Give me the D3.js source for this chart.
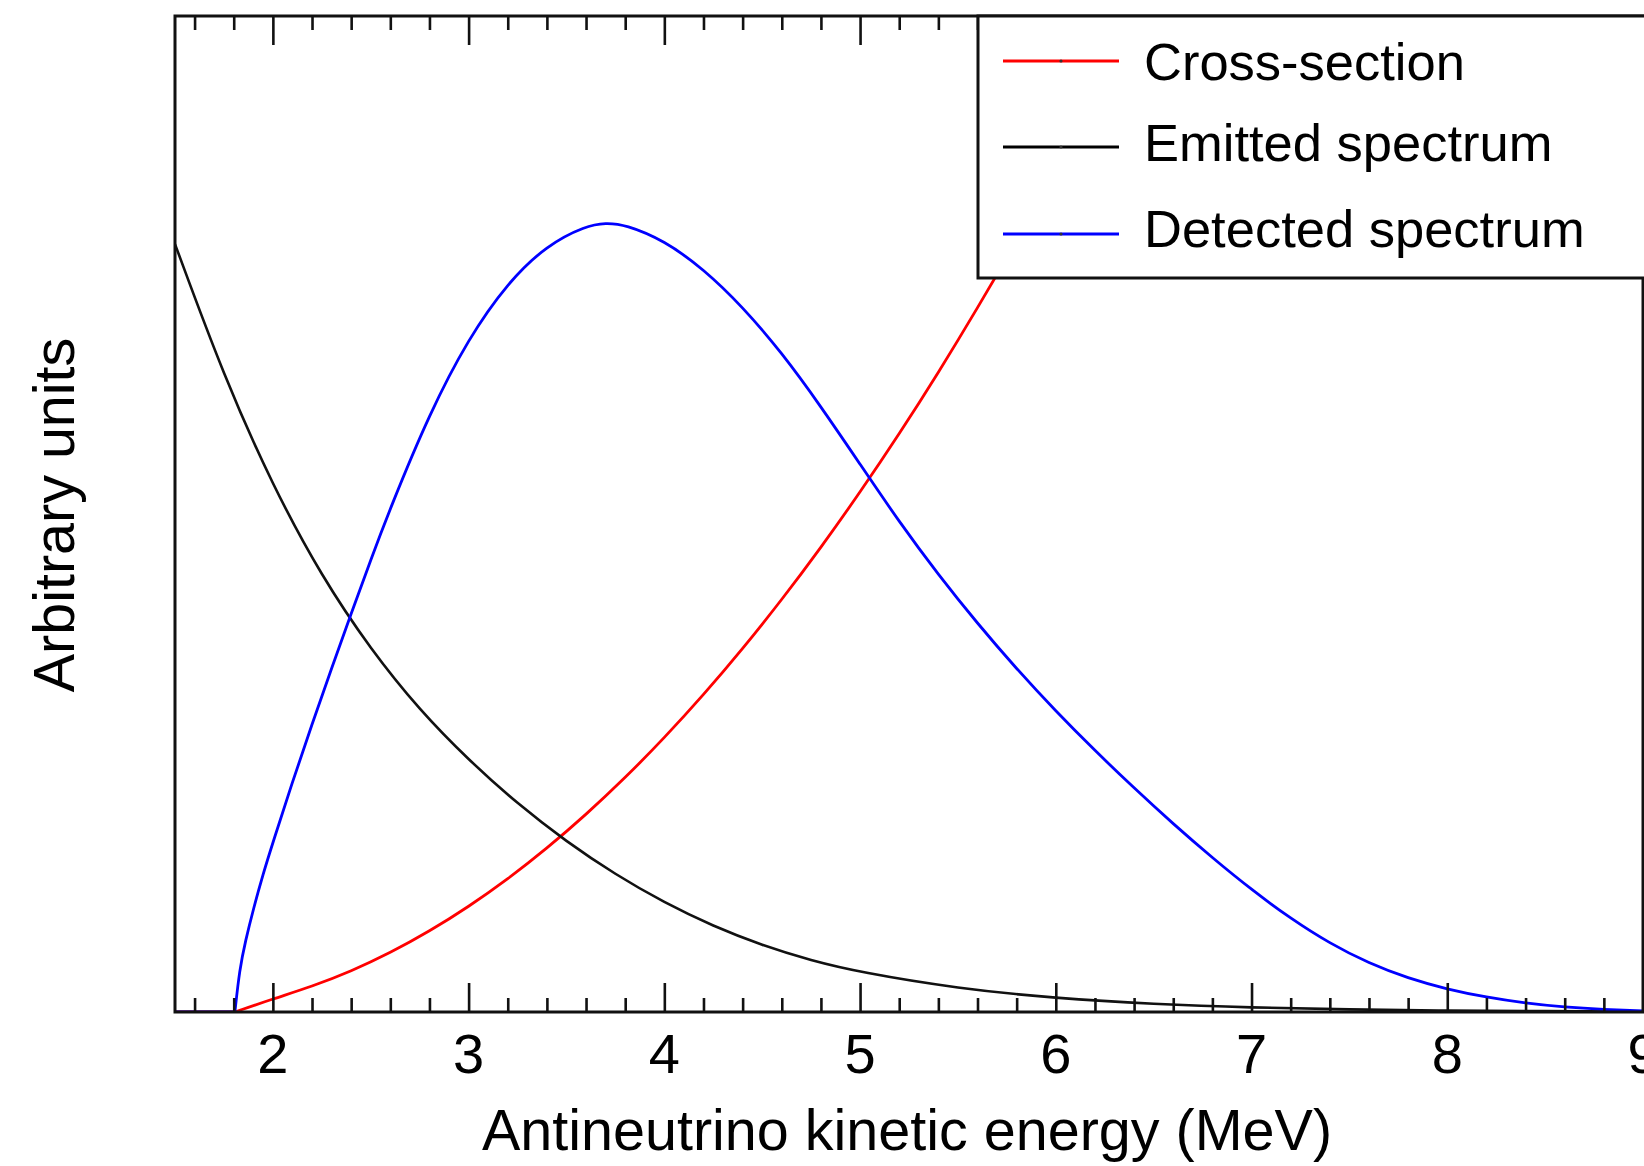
<!DOCTYPE html>
<html>
<head>
<meta charset="utf-8">
<script src="https://cdn.jsdelivr.net/npm/d3@7"></script>
<style>
  html, body { margin: 0; padding: 0; background: #fff; overflow: hidden; }
  svg { display: block; font-family: "Liberation Sans", Arial, Helvetica, sans-serif; }
</style>
</head>
<body>
<svg id="chart" width="1644" height="1166"></svg>
<script>
// ---- data ----
const xTickValues = [2, 3, 4, 5, 6, 7, 8, 9];
const threshold = 1.806;

const crossE = [1.5, 1.806, 2.0, 2.2, 2.4, 2.6, 2.8, 3.0, 3.2, 3.4, 3.6, 3.8, 4.0, 4.2, 4.4, 4.6, 4.8, 5.0, 5.2, 5.4, 5.6, 5.8, 6.0, 6.2, 6.4, 6.6];
const crossV = [0, 0, 0.0132, 0.0256, 0.0409, 0.0594, 0.081, 0.1057, 0.1334, 0.1642, 0.1982, 0.2351, 0.2752, 0.3184, 0.3646, 0.4139, 0.4663, 0.5218, 0.5803, 0.6419, 0.7067, 0.7744, 0.8453, 0.9193, 0.9963, 1.0764];

const emitE = [1.5, 1.75, 2.0, 2.25, 2.5, 2.75, 3.0, 3.25, 3.5, 3.75, 4.0, 4.25, 4.5, 4.75, 5.0, 5.5, 6.0, 6.5, 7.0, 7.5, 8.0, 8.5, 9.0];
const emitV = [0.771, 0.638, 0.528, 0.437, 0.364, 0.303, 0.253, 0.209, 0.171, 0.138, 0.1097, 0.0861, 0.0669, 0.0517, 0.0399, 0.0236, 0.0138, 0.0079, 0.0044, 0.0025, 0.0014, 0.0008, 0.0004];

const detE = [1.5, 1.806, 1.83, 1.86, 1.9, 1.95, 2.0, 2.1, 2.2, 2.3, 2.4, 2.5, 2.6, 2.8, 3.0, 3.2, 3.4, 3.6, 3.7, 3.8, 4.0, 4.2, 4.4, 4.6, 4.8, 5.0, 5.2, 5.4, 5.6, 5.8, 6.0, 6.2, 6.4, 6.6, 6.8, 7.0, 7.2, 7.4, 7.6, 7.8, 8.0, 8.2, 8.4, 8.6, 8.8, 9.0];
const detV = [0, 0, 0.043, 0.0714, 0.103, 0.1386, 0.170, 0.231, 0.289, 0.345, 0.400, 0.454, 0.506, 0.601, 0.6766, 0.7324, 0.770, 0.7894, 0.7923, 0.7906, 0.7746, 0.746, 0.708, 0.662, 0.608, 0.550, 0.492, 0.439, 0.390, 0.3444, 0.302, 0.2624, 0.2248, 0.1888, 0.1548, 0.1228, 0.0938, 0.0688, 0.0488, 0.0338, 0.0228, 0.0148, 0.0088, 0.0048, 0.0024, 0.001];

const seriesNames = ["Cross-section", "Emitted spectrum", "Detected spectrum"];
const seriesColors = ["#ff0000", "#000000", "#0000ff"];

// ---- layout ----
const svg = d3.select("#chart");
const plotL = 175, plotR = 1643, plotT = 16, plotB = 1012;

const x = d3.scaleLinear().domain([1.5, 9]).range([plotL, plotR]);
const y = d3.scaleLinear().domain([0, 1]).range([plotB, plotT]);

svg.append("defs").append("clipPath").attr("id", "plotclip")
  .append("rect").attr("x", plotL).attr("y", plotT).attr("width", plotR - plotL).attr("height", plotB - plotT);

const zip = (E, V) => E.map((e, i) => ({ e, v: V[i] }));
const crossData = zip(crossE, crossV);
const emitData = zip(emitE, emitV);
const detData = zip(detE, detV);

const lineSmooth = d3.line().x(d => x(d.e)).y(d => y(d.v)).curve(d3.curveBasis);
const lineLin = d3.line().x(d => x(d.e)).y(d => y(d.v));

const plot = svg.append("g").attr("clip-path", "url(#plotclip)");
const curveWidth = 2.8;

function drawThresholdSeries(data, color) {
  const flat = data.filter(d => d.e <= threshold);
  const rise = data.filter(d => d.e >= threshold);
  plot.append("path").datum(flat).attr("d", lineLin)
    .attr("fill", "none").attr("stroke", color).attr("stroke-width", curveWidth);
  plot.append("path").datum(rise).attr("d", lineSmooth)
    .attr("fill", "none").attr("stroke", color).attr("stroke-width", curveWidth);
}

drawThresholdSeries(crossData, seriesColors[0]);
plot.append("path").datum(emitData).attr("d", lineSmooth)
  .attr("fill", "none").attr("stroke", "#111").attr("stroke-width", curveWidth - 0.2);
drawThresholdSeries(detData, seriesColors[2]);

// ---- axes (ROOT style: ticks inside) ----
const majorLen = 29, minorLen = 14;
const minorTicks = d3.range(16, 91, 2).map(v => v / 10).filter(v => !xTickValues.includes(v));

const bottomAxis = d3.axisTop(x).tickValues(xTickValues).tickSize(majorLen).tickFormat("");
const bottomMinor = d3.axisTop(x).tickValues(minorTicks).tickSize(minorLen).tickFormat("");
const topAxis = d3.axisBottom(x).tickValues(xTickValues).tickSize(majorLen).tickFormat("");
const topMinor = d3.axisBottom(x).tickValues(minorTicks).tickSize(minorLen).tickFormat("");

function styleAxis(g) {
  g.select(".domain").remove();
  g.selectAll(".tick line").attr("stroke", "#111").attr("stroke-width", 2.6);
}
svg.append("g").attr("transform", `translate(0,${plotB})`).call(bottomAxis).call(styleAxis);
svg.append("g").attr("transform", `translate(0,${plotB})`).call(bottomMinor).call(styleAxis);
svg.append("g").attr("transform", `translate(0,${plotT})`).call(topAxis).call(styleAxis);
svg.append("g").attr("transform", `translate(0,${plotT})`).call(topMinor).call(styleAxis);

// tick labels
svg.append("g").selectAll("text").data(xTickValues).join("text")
  .attr("x", d => x(d)).attr("y", 1073)
  .attr("text-anchor", "middle").attr("font-size", 56).attr("fill", "#000")
  .text(d => d);

// frame
svg.append("rect").attr("x", plotL).attr("y", plotT)
  .attr("width", plotR - plotL).attr("height", plotB - plotT)
  .attr("fill", "none").attr("stroke", "#111").attr("stroke-width", 3);

// axis titles
svg.append("text").attr("x", 907).attr("y", 1150).attr("text-anchor", "middle")
  .attr("font-size", 57.5).attr("fill", "#000").text("Antineutrino kinetic energy (MeV)");
svg.append("text").attr("transform", "translate(74,515) rotate(-90)").attr("text-anchor", "middle")
  .attr("font-size", 57.5).attr("fill", "#000").text("Arbitrary units");

// ---- legend ----
const legX = 978, legY = 16, legH = 262;
const legend = svg.append("g");
legend.append("rect").attr("x", legX).attr("y", legY).attr("width", 720).attr("height", legH)
  .attr("fill", "#fff").attr("stroke", "#111").attr("stroke-width", 3);
const rowY = [61, 147, 234];
const textY = [80, 161, 247];
seriesNames.forEach((name, i) => {
  legend.append("line").attr("x1", 1003).attr("x2", 1119).attr("y1", rowY[i]).attr("y2", rowY[i])
    .attr("stroke", seriesColors[i]).attr("stroke-width", 3);
  legend.append("circle").attr("cx", 1061).attr("cy", rowY[i]).attr("r", 1.6).attr("fill", "#333");
  legend.append("text").attr("x", 1144).attr("y", textY[i]).attr("font-size", 52.5)
    .attr("fill", "#000").text(name);
});
</script>
</body>
</html>
